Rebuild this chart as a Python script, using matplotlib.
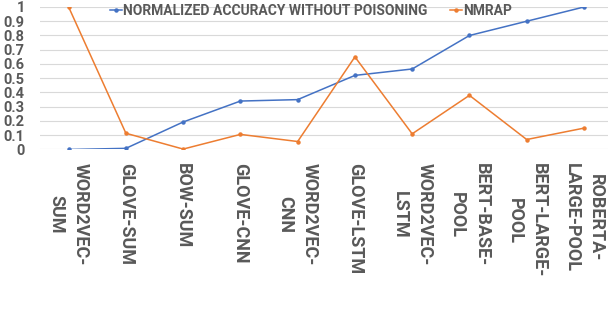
import matplotlib
matplotlib.use("Agg")
import matplotlib.pyplot as plt

models = ["WORD2VEC-\nSUM", "GLOVE-SUM", "BOW-SUM", "GLOVE-CNN", "WORD2VEC-\nCNN",
          "GLOVE-LSTM", "WORD2VEC-\nLSTM", "BERT-BASE-\nPOOL", "BERT-LARGE-\nPOOL",
          "ROBERTA-\nLARGE-POOL"]
norm_accuracy = [0.0, 0.008, 0.193, 0.34, 0.35, 0.52, 0.565, 0.80, 0.90, 1.0]
nmrap = [1.0, 0.114, 0.003, 0.106, 0.056, 0.65, 0.11, 0.38, 0.07, 0.15]
yticks = [0, 0.1, 0.2, 0.3, 0.4, 0.5, 0.6, 0.7, 0.8, 0.9, 1]

TEXT = "#595959"
plt.rcParams["font.family"] = ["Roboto", "DejaVu Sans"]

fig = plt.figure(figsize=(6.08, 3.10), dpi=100)
ax = fig.add_axes([40 / 608, 1 - 149.5 / 310, 568 / 608, 142.5 / 310])

x = range(len(models))
ax.plot(x, norm_accuracy, color="#4472C4", lw=1.1, marker="o", ms=2.2,
        label="NORMALIZED ACCURACY WITHOUT POISONING")
ax.plot(x, nmrap, color="#ED7D31", lw=1.1, marker="o", ms=2.2, label="NMRAP")

ax.set_xlim(-0.5, 9.42)
ax.set_ylim(0, 1)
ax.set_yticks(yticks)
ax.set_yticklabels([f"{v:g}" for v in yticks], fontsize=10.5, fontweight="bold", color=TEXT)
ax.set_xticks(list(x))
ax.set_xticklabels(models, rotation=270, fontsize=13, fontweight="bold", color=TEXT,
                   va="top", ha="center", multialignment="center", linespacing=1.45)
ax.tick_params(axis="both", length=0)
ax.tick_params(axis="x", pad=10)
ax.tick_params(axis="y", pad=11)
ax.grid(axis="y", color="#d9d9d9", lw=0.8)
ax.set_axisbelow(True)
for s in ax.spines.values():
    s.set_visible(False)

fig.legend(loc="center left", bbox_to_anchor=(110 / 608, 1 - 11 / 310), ncol=2,
           frameon=False, borderpad=0, borderaxespad=0, handlelength=0.85,
           handletextpad=0.1, columnspacing=1.6,
           prop={"size": 10, "weight": "bold"}, labelcolor=TEXT)

fig.savefig("out.png", dpi=100)
